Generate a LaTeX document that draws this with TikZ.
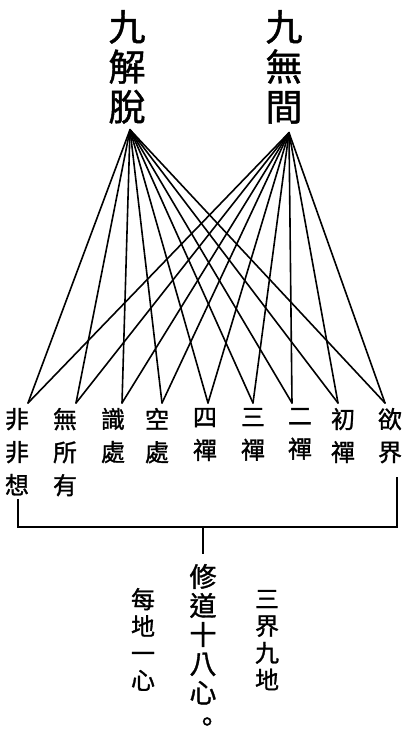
\documentclass[tikz,border=0pt]{standalone}
\usepackage{fontspec}
\usepackage{xcolor}
\usepackage{tikz}
\newfontfamily\cjk{Noto Sans CJK TC}[FakeBold=1.2]

\begin{document}
\begin{tikzpicture}[x=1pt,y=-1pt,
  every node/.style={inner sep=0pt, outer sep=0pt, align=center},
  titlecol/.style={font=\cjk\fontsize{37}{40}\selectfont, anchor=north},
  levelcol/.style={font=\cjk\fontsize{24}{33}\selectfont, anchor=north},
  notecol/.style={font=\cjk\fontsize{24}{27}\selectfont, anchor=north},
  maincol/.style={font=\cjk\fontsize{27}{29}\selectfont, anchor=north},
  link/.style={draw=drawColor, line width=1.6pt, line join=round, line cap=round},
  brace/.style={draw=drawColor, line width=1.8pt}]
\definecolor{fillColor}{RGB}{255,255,255}
\definecolor{drawColor}{RGB}{0,0,0}
\path[use as bounding box,fill=fillColor] (0,0) rectangle (413,745);

\node[titlecol] (jt) at (127, 10) {九\\解\\脫};
\node[titlecol] (wj) at (284, 10) {九\\無\\間};
\coordinate (jtap) at ([xshift=3,yshift=-6]jt.south);
\coordinate (wjap) at ([xshift=5,yshift=-9]wj.south);

\foreach \i/\cx/\txt/\dx in {1/17/{非\\非\\想}/11, 2/65/{無\\所\\有}/11,
    3/113/{識\\處}/9, 4/157/{空\\處}/5, 5/205/{四\\禪}/3, 6/253/{三\\禪}/0,
    7/300/{二\\禪}/-8, 8/343/{初\\禪}/-5, 9/390/{欲\\界}/-5}{
  \node[levelcol] (l\i) at (\cx, 408) {\txt};
  \coordinate (e\i) at ([xshift=\dx,yshift=5]l\i.north);
}

\foreach \i in {1,...,9}{
  \path[link] (jtap) -- (e\i);
  \path[link] (wjap) -- (e\i);
}

\node[maincol] (xiu) at (203, 564) {修\\道\\十\\八\\心\\\hspace*{0.3em}。};
\node[notecol] (mei) at (143, 588) {每\\地\\一\\心};
\node[notecol] (san) at (267, 590) {三\\界\\九\\地};

\coordinate (bar) at (203, 527);
\path[brace] ([xshift=1,yshift=-4]l1.south) |- (bar) -| ([xshift=7,yshift=-14]l9.south);
\path[brace] (bar) -- ([yshift=10]xiu.north);
\end{tikzpicture}
\end{document}
